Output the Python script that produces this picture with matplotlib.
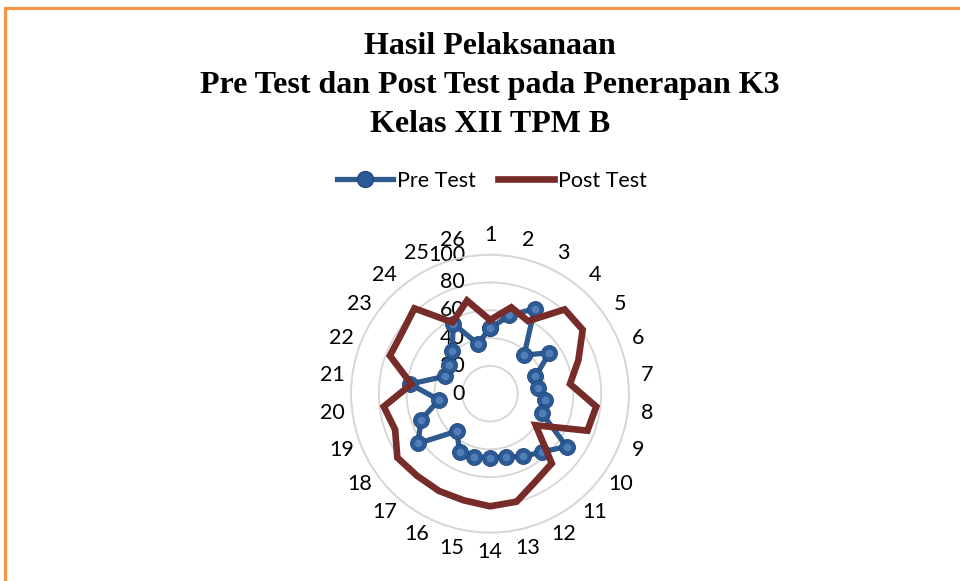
import numpy as np
import matplotlib
matplotlib.use("Agg")
import matplotlib.pyplot as plt
import matplotlib.transforms as mtransforms
from matplotlib.lines import Line2D
from matplotlib.patches import Rectangle

# data
kategori = [str(i) for i in range(1, 27)]
pre_test = [47, 58, 69, 37, 52, 35, 35, 40, 40, 67, 56, 51, 47,
            46, 47, 47, 36, 63, 53, 37, 58, 35, 36, 41, 57, 37]
post_test = [53, 64, 59, 81, 81, 68, 58, 77, 75, 40, 67, 71, 80,
             81, 79, 79, 79, 81, 73, 77, 57, 77, 77, 82, 58, 69]
tick_r = [0, 20, 40, 60, 80, 100]
judul = ["Hasil Pelaksanaan",
         "Pre Test dan Post Test pada Penerapan K3",
         "Kelas XII TPM B"]

plt.rcParams['font.family'] = ['Lato', 'DejaVu Sans']
FS = 15.5

W, H = 960, 581
fig = plt.figure(figsize=(W / 100, H / 100), dpi=100)

# orange frame (only top and left visible in the reference)
fig.patches.append(Rectangle((5 / W, -0.2), 2.0, 1.2 - 8 / H,
                             transform=fig.transFigure, fill=False,
                             edgecolor='#F79646', linewidth=2.3))

# radar axes: center (490, 394) px, radius 139 px
cx, cy, R = 490, 393.7, 139
ax = fig.add_axes([(cx - R) / W, (H - cy - R) / H, 2 * R / W, 2 * R / H],
                  projection='polar')
ax.set_theta_zero_location('N')
ax.set_theta_direction(-1)
ax.set_ylim(0, 100)

n = len(kategori)
theta = np.arange(n) * 2 * np.pi / n
th_c = np.append(theta, theta[0])

ax.set_xticks([])
ax.set_yticks(tick_r[1:])
ax.set_yticklabels([])
ax.yaxis.grid(True, color='#D6D6D6', linewidth=1.3)
ax.xaxis.grid(False)
ax.spines['polar'].set_color('#D6D6D6')
ax.spines['polar'].set_linewidth(1.3)

# Pre Test
pre_c = np.append(pre_test, pre_test[0])
ax.plot(th_c, pre_c, color='#2E5A8E', linewidth=3.8, zorder=3,
        marker='o', markersize=11.5, markerfacecolor='#2C5A96',
        markeredgecolor='#23487A', markeredgewidth=0.6)
ax.plot(theta, pre_test, linestyle='none', marker='o', markersize=5.5,
        markerfacecolor='#5F8BC4', markeredgewidth=0, alpha=0.75, zorder=4)

# Post Test
post_c = np.append(post_test, post_test[0])
ax.plot(th_c, post_c, color='#772C2A', linewidth=4.8, zorder=5,
        solid_joinstyle='miter')

# category labels
for t, lab in zip(theta, kategori):
    ax.text(t, 114, lab, ha='center', va='center', fontsize=FS,
            color='#000000', clip_on=False)

# radial value labels, right aligned left of the vertical axis
off = mtransforms.offset_copy(ax.transData, fig=fig, x=-25, y=0, units='dots')
for r in tick_r:
    ax.text(0, r, str(r), transform=off, ha='right', va='center',
            fontsize=FS, color='#000000', zorder=2)

# title
for i, baris in enumerate(judul):
    fig.text(cx / W, 1 - (47 + 38.5 * i) / H, baris, ha='center', va='center',
             fontsize=23, fontweight='bold', family='Liberation Serif')

# legend
handles = [Line2D([], [], color='#2E5A8E', linewidth=3.8, marker='o',
                  markersize=11.5, markerfacecolor='#2C5A96',
                  markeredgecolor='#23487A'),
           Line2D([], [], color='#772C2A', linewidth=4.8)]
fig.legend(handles, ['Pre Test', 'Post Test'], loc='center',
           bbox_to_anchor=(492 / W, 1 - 181 / H), ncol=2, frameon=False,
           fontsize=FS, handlelength=2.6, handletextpad=0.2,
           columnspacing=1.0)

fig.savefig('out.png', dpi=100, facecolor='white')
